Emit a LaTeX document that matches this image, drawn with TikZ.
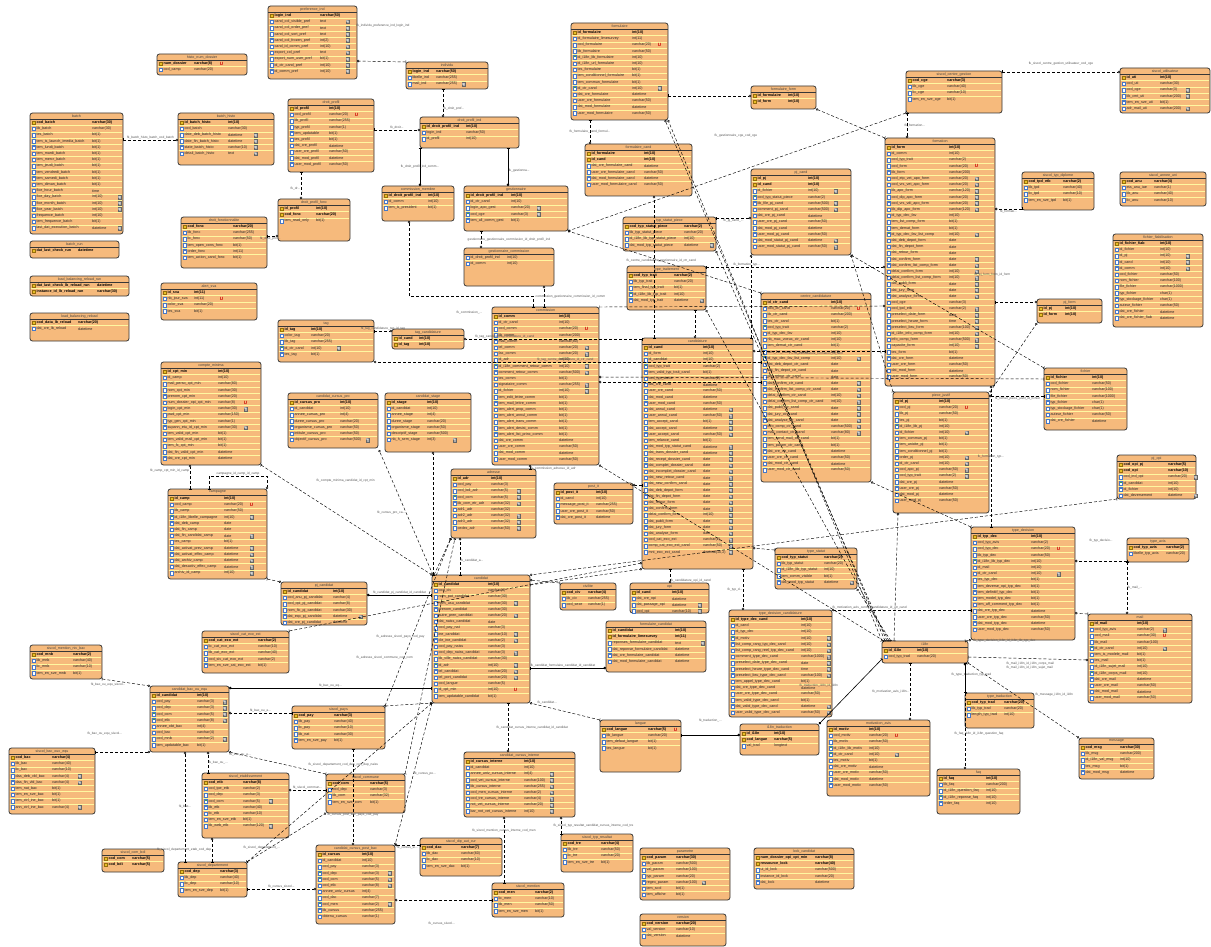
\documentclass[tikz,border=0pt]{standalone}
\usepackage{fontspec}
\setmainfont{Liberation Sans}
\usetikzlibrary{arrows.meta,calc,positioning}
\definecolor{tabfill}{RGB}{246,186,124}
\definecolor{tabedge}{RGB}{55,55,55}
\definecolor{rowyellow}{RGB}{255,247,160}
\definecolor{keygold}{RGB}{232,190,40}
\definecolor{keydark}{RGB}{150,110,10}
\definecolor{iconblue}{RGB}{70,120,200}
\definecolor{fkgreen}{RGB}{60,160,70}
\definecolor{lblgray}{RGB}{85,85,85}
\newcommand{\dbtab}[8]{%
  \node[tabbox, minimum width={(#5-#3)*1pt}, minimum height={(#6-#4)*1pt}] (#1) at ({(#3+#5)/2},{(#4+#6)/2}) {};
  \foreach \kk/\nm/\tp/\fl [count=\ri] in {#8}{%
    \pgfmathsetmacro{\ry}{#4+6.5+(\ri-1)*6.2}
    \draw[rowline] ({#3+0.6},\ry) -- ({#5-0.6},\ry);
    \node[ic\kk] at ({#3+3.6},{\ry+3.1}) {};
    \node[cn\kk] at ({#3+6.4},{\ry+3.1}) {\nm};
    \node[ct\kk] at ({#3+#7},{\ry+3.1}) {\tp};
    \node at ({#3+#7+27.5},{\ry+3.1}) [mk\fl];
  }
  \draw[headline] ({#3},{#4+6.5}) -- ({#5},{#4+6.5});
  \node[tabhead] at ({(#3+#5)/2},{#4+3.4}) {#2};
}
\catcode`\_=12
\begin{document}
\begin{tikzpicture}[x=1pt, y=-1pt,
  tabbox/.style={draw=tabedge, fill=tabfill, line width=0.8pt, rounded corners=2.5pt, inner sep=0pt, outer sep=0pt},
  tabhead/.style={font=\fontsize{3.6}{4}\selectfont, text=black!75, inner sep=0pt},
  rowline/.style={draw=rowyellow, line width=0.7pt},
  headline/.style={draw=tabedge, line width=0.6pt},
  txt/.style={anchor=west, inner sep=0pt, font=\fontsize{3.7}{4}\selectfont, text=black!85},
  txtb/.style={anchor=west, inner sep=0pt, font=\fontsize{3.7}{4}\selectfont\bfseries, text=black},
  cnk/.style={txtb}, cnp/.style={txtb}, cnc/.style={txt}, cnf/.style={txt},
  ctk/.style={txtb}, ctp/.style={txtb}, ctc/.style={txt}, ctf/.style={txt},
  icon/.style={minimum width=2.4pt, minimum height=3.6pt, inner sep=0pt, line width=0.3pt},
  ick/.style={icon, fill=keygold, draw=keydark},
  icp/.style={icon, fill=keygold, draw=keydark, path picture={\fill[fkgreen] (path picture bounding box.north west) rectangle ([yshift=-1.2pt]path picture bounding box.north east);}},
  icc/.style={icon, fill=white, draw=iconblue, path picture={\fill[iconblue] (path picture bounding box.north west) rectangle ([yshift=-1pt]path picture bounding box.north east);}},
  icf/.style={icon, fill=white, draw=iconblue, path picture={\fill[fkgreen] (path picture bounding box.north west) rectangle ([yshift=-1.2pt]path picture bounding box.north east);}},
  mkx/.style={inner sep=0pt, node contents={}},
  mkn/.style={fill=gray!65, draw=gray!80!black, line width=0.2pt, text=white, inner sep=0pt, minimum width=3.4pt, minimum height=3.6pt, font=\fontsize{3}{3}\selectfont\bfseries, node contents={N}},
  mku/.style={text=red!80!black, inner sep=0pt, font=\fontsize{4.6}{5}\selectfont\bfseries, node contents={U}},
  fk/.style={densely dashed, line width=0.45pt, arrows={Bar[width=3pt]-Circle[open,length=2.4pt,width=2.4pt]}},
  fkid/.style={line width=0.6pt, arrows={Bar[width=3pt]-Circle[length=2.4pt,width=2.4pt]}},
  lbl/.style={font=\fontsize{3.2}{3.6}\selectfont, text=lblgray, inner sep=0.5pt}]
\fill[white] (0,0) rectangle (1211,947);
\useasboundingbox (0,0) rectangle (1211,947);

\dbtab{hlsto}{histo_num_dossier}{157}{54}{247}{75}{37}{k/num_dossier/varchar(8)/u, c/cod_camp/varchar(20)/x}
\dbtab{prefind}{preference_ind}{268}{6}{357}{79}{52}{k/login_ind/varchar(50)/x, c/cand_col_visible_pref/text/n, c/cand_col_order_pref/text/n, c/cand_col_sort_pref/text/n, c/cand_col_frozen_pref/int(2)/n, c/cand_id_comm_pref/int(10)/n, c/export_col_pref/text/n, c/export_num_user_pref/bit(1)/n, c/id_ctr_cand_pref/int(10)/n, c/id_comm_pref/int(10)/n}
\dbtab{individu}{individu}{406}{62}{488}{89}{30}{k/login_ind/varchar(50)/x, c/libelle_ind/varchar(255)/x, c/mail_ind/varchar(255)/n}
\dbtab{formulaire}{formulaire}{571}{23}{668}{120}{61}{k/id_formulaire/int(10)/x, c/id_formulaire_limesurvey/int(11)/x, c/cod_formulaire/varchar(20)/u, c/lib_formulaire/varchar(50)/x, f/id_i18n_lib_formulaire/int(10)/x, f/id_i18n_url_formulaire/int(10)/x, c/tes_formulaire/bit(1)/x, c/tem_conditionnel_formulaire/bit(1)/x, c/tem_commun_formulaire/bit(1)/x, f/id_ctr_cand/int(10)/n, c/dat_cre_formulaire/datetime/x, c/user_cre_formulaire/varchar(50)/x, c/dat_mod_formulaire/datetime/x, c/user_mod_formulaire/varchar(50)/x}
\dbtab{formform}{formulaire_form}{751}{86}{816}{109}{37}{p/id_formulaire/int(10)/x, p/id_form/int(10)/x}
\dbtab{cge}{siscol_centre_gestion}{906}{71}{1002}{113}{41}{k/cod_cge/varchar(3)/x, c/lib_cge/varchar(40)/x, c/lic_cge/varchar(10)/x, c/tem_en_sve_cge/bit(1)/x}
\dbtab{siscolutil}{siscol_utilisateur}{1120}{68}{1210}{113}{40}{k/id_uti/int(10)/x, c/cod_uti/varchar(30)/x, f/cod_cge/varchar(3)/n, c/lib_cmt_uti/varchar(200)/n, c/tem_en_sve_uti/bit(1)/x, c/adr_mail_uti/varchar(200)/n}
\dbtab{batch}{batch}{30}{113}{123}{234}{62}{k/cod_batch/varchar(30)/x, c/lib_batch/varchar(30)/x, c/tes_batch/bit(1)/x, c/tem_is_launch_imedia_batch/bit(1)/x, c/tem_lundi_batch/bit(1)/x, c/tem_mardi_batch/bit(1)/x, c/tem_mercr_batch/bit(1)/x, c/tem_jeudi_batch/bit(1)/x, c/tem_vendredi_batch/bit(1)/x, c/tem_samedi_batch/bit(1)/x, c/tem_diman_batch/bit(1)/x, c/fixe_hour_batch/time/x, c/fixe_day_batch/int(10)/n, c/fixe_month_batch/int(10)/n, c/fixe_year_batch/int(10)/n, c/frequence_batch/int(10)/x, c/tem_frequence_batch/bit(1)/x, c/last_dat_execution_batch/datetime/n}
\dbtab{batchhisto}{batch_histo}{178}{113}{274}{165}{50}{k/id_batch_histo/int(10)/x, f/cod_batch/varchar(30)/x, c/date_deb_batch_histo/datetime/n, c/date_fin_batch_histo/datetime/n, c/state_batch_histo/varchar(10)/n, c/detail_batch_histo/text/n}
\dbtab{droitprofil}{droit_profil}{288}{99}{374}{172}{41}{k/id_profil/int(10)/x, c/cod_profil/varchar(20)/u, c/lib_profil/varchar(255)/x, c/typ_profil/varchar(1)/x, c/tem_updatable/bit(1)/x, c/tes_profil/bit(1)/x, c/dat_cre_profil/datetime/x, c/user_cre_profil/varchar(50)/x, c/dat_mod_profil/datetime/x, c/user_mod_profil/varchar(50)/x}
\dbtab{droitprofilind}{droit_profil_ind}{420}{117}{519}{148}{46}{k/id_droit_profil_ind/int(10)/x, f/login_ind/varchar(50)/x, f/id_profil/int(10)/x}
\dbtab{formcand}{formulaire_cand}{585}{144}{692}{196}{59}{p/id_formulaire/int(10)/x, p/id_cand/int(10)/x, c/dat_cre_formulaire_cand/datetime/x, c/user_cre_formulaire_cand/varchar(50)/x, c/dat_mod_formulaire_cand/datetime/x, c/user_mod_formulaire_cand/varchar(50)/x}
\dbtab{formation}{formation}{885}{138}{995}{386}{64}{k/id_form/int(10)/x, f/id_comm/int(10)/x, f/cod_typ_trait/varchar(2)/x, c/cod_form/varchar(20)/u, c/lib_form/varchar(200)/x, c/cod_etp_vet_apo_form/varchar(20)/n, c/cod_vrs_vet_apo_form/varchar(20)/n, c/lib_apo_form/varchar(120)/n, c/cod_dip_apo_form/varchar(20)/n, c/cod_vrs_vdi_apo_form/varchar(20)/n, c/lib_dip_apo_form/varchar(120)/n, f/id_typ_dec_fav/int(10)/x, c/tem_list_comp_form/bit(1)/x, c/tem_demat_form/bit(1)/x, f/id_typ_dec_fav_list_comp/int(10)/n, c/dat_deb_depot_form/date/x, c/dat_fin_depot_form/date/x, c/dat_retour_form/date/x, c/dat_confirm_form/date/n, c/dat_confirm_list_comp_form/date/n, c/delai_confirm_form/int(10)/n, c/delai_confirm_list_comp_form/int(10)/n, c/dat_publi_form/date/n, c/dat_jury_form/date/n, c/dat_analyse_form/date/n, f/cod_cge/varchar(3)/x, f/cod_tpd_etb/varchar(2)/n, c/preselect_date_form/date/n, c/preselect_heure_form/time/n, c/preselect_lieu_form/varchar(100)/n, f/id_i18n_info_comp_form/int(10)/n, c/info_comp_form/varchar(500)/n, c/capacite_form/int(10)/n, c/tes_form/bit(1)/x, c/dat_cre_form/datetime/x, c/user_cre_form/varchar(50)/x, c/dat_mod_form/datetime/x, c/user_mod_form/varchar(50)/x}
\dbtab{typdiplome}{siscol_typ_diplome}{1022}{172}{1094}{210}{41}{k/cod_tpd_etb/varchar(2)/x, c/lib_tpd/varchar(40)/x, c/lic_tpd/varchar(10)/x, c/tem_en_sve_tpd/bit(1)/x}
\dbtab{anneeuni}{siscol_annee_uni}{1120}{172}{1206}{206}{34}{k/cod_anu/varchar(4)/x, c/eta_anu_iae/varchar(1)/x, c/lib_anu/varchar(40)/x, c/lic_anu/varchar(10)/x}
\dbtab{pjcand}{pj_cand}{751}{169}{851}{255}{57}{p/id_pj/int(10)/x, p/id_cand/int(10)/x, f/id_fichier/int(10)/n, f/cod_typ_statut_piece/varchar(2)/x, c/lib_file_pj_cand/varchar(500)/n, c/comment_pj_cand/varchar(500)/n, c/dat_cre_pj_cand/datetime/x, c/user_cre_pj_cand/varchar(50)/x, c/dat_mod_pj_cand/datetime/x, c/user_mod_pj_cand/varchar(50)/x, c/dat_mod_statut_pj_cand/datetime/n, c/user_mod_statut_pj_cand/varchar(50)/n}
\dbtab{droitprofilfonc}{droit_profil_fonc}{278}{199}{350}{241}{38}{p/id_profil/int(10)/x, p/cod_fonc/varchar(20)/x, c/tem_read_only/bit(1)/x}
\dbtab{droitfonc}{droit_fonctionnalite}{181}{217}{267}{268}{52}{k/cod_fonc/varchar(20)/x, c/lib_fonc/varchar(255)/x, c/lic_fonc/varchar(50)/x, c/tem_open_cons_fonc/bit(1)/x, c/order_fonc/int(11)/x, c/tem_action_cand_fonc/bit(1)/x}
\dbtab{commmembre}{commission_membre}{382}{186}{454}{221}{46}{p/id_droit_profil_ind/int(10)/x, f/id_comm/int(10)/x, c/tem_is_president/bit(1)/x}
\dbtab{gestionnaire}{gestionnaire}{464}{186}{568}{231}{47}{p/id_droit_profil_ind/int(10)/x, f/id_ctr_cand/int(10)/x, c/login_apo_gest/varchar(20)/n, f/cod_cge/varchar(3)/n, c/tem_all_comm_gest/bit(1)/x}
\dbtab{typstatutpiece}{typ_statut_piece}{623}{217}{716}{251}{61}{k/cod_typ_statut_piece/varchar(2)/x, c/lib_typ_statut_piece/varchar(20)/x, f/id_i18n_lib_typ_statut_piece/int(10)/x, c/dat_mod_typ_statut_piece/datetime/n}
\dbtab{fichierfiab}{fichier_fiabilisation}{1113}{234}{1203}{327}{47}{k/id_fichier_fiab/int(10)/x, c/id_fichier/int(10)/x, c/id_pj/int(10)/n, c/id_cand/int(10)/n, c/id_comm/int(10)/n, c/cod_fichier/varchar(50)/x, c/nom_fichier/varchar(100)/x, c/file_fichier/varchar(1000)/x, c/typ_fichier/char(1)/x, c/typ_stockage_fichier/char(1)/x, c/auteur_fichier/varchar(50)/x, c/dat_cre_fichier/datetime/x, c/dat_cre_fichier_fiab/datetime/x}
\dbtab{batchrun}{batch_run}{30}{241}{119}{258}{48}{k/dat_last_check_run/datetime/x}
\dbtab{gestcomm}{gestionnaire_commission}{464}{248}{554}{286}{43}{f/id_droit_profil_ind/int(10)/x, f/id_comm/int(10)/x}
\dbtab{typetrait}{type_traitement}{627}{266}{706}{310}{47}{k/cod_typ_trait/varchar(2)/x, c/lib_typ_trait/varchar(20)/x, c/tem_final_typ_trait/bit(1)/x, f/id_i18n_lib_typ_trait/int(10)/x, c/dat_mod_typ_trait/datetime/n}
\dbtab{lbreloadrun}{load_balancing_reload_run}{30}{276}{129}{296}{67}{k/dat_last_check_lb_reload_run/datetime/x, k/instance_id_lb_reload_run/varchar(30)/x}
\dbtab{alertsva}{alert_sva}{161}{283}{257}{320}{33}{k/id_sva/int(11)/x, c/nb_jour_sva/int(11)/u, c/color_sva/varchar(20)/x, c/tes_sva/bit(1)/x}
\dbtab{centrecand}{centre_candidature}{761}{293}{871}{482}{70}{k/id_ctr_cand/int(10)/x, c/cod_ctr_cand/varchar(20)/u, c/lib_ctr_cand/varchar(200)/x, c/tes_ctr_cand/bit(1)/x, f/cod_typ_trait/varchar(2)/x, f/id_typ_dec_fav/int(10)/x, c/nb_max_voeux_ctr_cand/int(10)/x, c/tem_demat_ctr_cand/bit(1)/x, c/tem_list_comp_ctr_cand/bit(1)/x, f/id_typ_dec_fav_list_comp/int(10)/n, c/dat_deb_depot_ctr_cand/date/x, c/dat_fin_depot_ctr_cand/date/x, c/dat_retour_ctr_cand/date/x, c/dat_confirm_ctr_cand/date/n, c/dat_confirm_list_comp_ctr_cand/date/n, c/delai_confirm_ctr_cand/int(10)/n, c/delai_confirm_list_comp_ctr_cand/int(10)/n, c/dat_publi_ctr_cand/date/n, c/dat_jury_ctr_cand/date/n, c/dat_analyse_ctr_cand/date/n, c/info_comp_ctr_cand/varchar(500)/n, c/mail_contact_ctr_cand/varchar(80)/n, c/tem_send_mail_ctr_cand/bit(1)/x, c/tem_param_ctr_cand/bit(1)/x, c/dat_cre_ctr_cand/datetime/x, c/user_cre_ctr_cand/varchar(50)/x, c/dat_mod_ctr_cand/datetime/x, c/user_mod_ctr_cand/varchar(50)/x}
\dbtab{pjform}{pj_form}{1037}{299}{1102}{323}{28}{p/id_pj/int(10)/x, p/id_form/int(10)/x}
\dbtab{commission}{commission}{492}{307}{599}{465}{67}{k/id_comm/int(10)/x, f/id_ctr_cand/int(10)/x, c/cod_comm/varchar(20)/u, c/lib_comm/varchar(200)/x, c/mail_comm/varchar(80)/x, c/tel_comm/varchar(20)/n, c/fax_comm/varchar(20)/n, f/id_adr/int(10)/x, f/id_i18n_comment_retour_comm/int(10)/n, c/comment_retour_comm/varchar(500)/n, c/tes_comm/bit(1)/x, c/signataire_comm/varchar(255)/n, f/id_fichier/int(10)/n, c/tem_edit_lettre_comm/bit(1)/x, c/tem_mail_lettre_comm/bit(1)/x, c/tem_alert_prop_comm/bit(1)/x, c/tem_alert_annul_comm/bit(1)/x, c/tem_alert_trans_comm/bit(1)/x, c/tem_alert_desist_comm/bit(1)/x, c/tem_alert_list_princ_comm/bit(1)/x, c/dat_cre_comm/datetime/x, c/user_cre_comm/varchar(50)/x, c/dat_mod_comm/datetime/x, c/user_mod_comm/varchar(50)/x}
\dbtab{lbreload}{load_balancing_reload}{30}{313}{129}{341}{48}{k/cod_data_lb_reload/varchar(20)/x, c/dat_cre_lb_reload/datetime/x}
\dbtab{tag}{tag}{278}{320}{374}{362}{33}{k/id_tag/int(10)/x, c/color_tag/varchar(20)/x, c/lib_tag/varchar(255)/x, f/id_ctr_cand/int(10)/n, c/tes_tag/bit(1)/x}
\dbtab{tagcand}{tag_candidature}{392}{329}{464}{349}{27}{p/id_cand/int(10)/x, p/id_tag/int(10)/x}
\dbtab{candidature}{candidature}{642}{338}{753}{569}{61}{k/id_cand/int(10)/x, f/id_form/int(10)/x, f/id_candidat/int(10)/x, f/cod_typ_trait/varchar(2)/x, c/tem_valid_typ_trait_cand/bit(1)/x, f/cod_typ_statut/varchar(2)/x, c/dat_cre_cand/datetime/x, c/user_cre_cand/varchar(50)/x, c/dat_mod_cand/datetime/x, c/user_mod_cand/varchar(50)/x, c/dat_annul_cand/datetime/n, c/user_annul_cand/varchar(50)/n, c/tem_accept_cand/bit(1)/n, c/dat_accept_cand/datetime/n, c/user_accept_cand/varchar(50)/n, c/tem_relance_cand/bit(1)/x, c/dat_mod_typ_statut_cand/datetime/n, c/dat_trans_dossier_cand/datetime/n, c/dat_recept_dossier_cand/date/n, c/dat_complet_dossier_cand/date/n, c/dat_incomplet_dossier_cand/date/n, c/dat_new_retour_cand/date/n, c/dat_new_confirm_cand/date/n, c/dat_deb_depot_form/date/n, c/dat_fin_depot_form/date/n, c/dat_retour_form/date/n, c/dat_confirm_form/date/n, c/delai_confirm_form/int(10)/n, c/dat_publi_form/date/n, c/dat_jury_form/date/n, c/dat_analyse_form/date/n, f/cod_cat_exo_ext/varchar(2)/n, c/comp_cat_exo_ext_cand/varchar(50)/n, c/mnt_exo_ext_cand/{decimal(10,2)}/n}
\dbtab{compteminima}{compte_minima}{161}{362}{261}{465}{57}{k/id_cpt_min/int(10)/x, f/id_camp/int(10)/x, c/mail_perso_cpt_min/varchar(80)/x, c/nom_cpt_min/varchar(30)/x, c/prenom_cpt_min/varchar(20)/x, c/num_dossier_opi_cpt_min/varchar(8)/u, c/login_cpt_min/varchar(30)/n, c/pwd_cpt_min/varchar(150)/x, c/typ_gen_cpt_min/varchar(1)/x, c/supann_etu_id_cpt_min/varchar(30)/n, c/tem_valid_cpt_min/bit(1)/x, c/tem_valid_mail_cpt_min/bit(1)/x, c/tem_fc_cpt_min/bit(1)/x, c/dat_fin_valid_cpt_min/datetime/x, c/dat_cre_cpt_min/datetime/x}
\dbtab{fichier}{fichier}{1044}{368}{1127}{430}{48}{k/id_fichier/int(10)/x, c/cod_fichier/varchar(50)/x, c/nom_fichier/varchar(100)/x, c/file_fichier/varchar(1000)/x, c/typ_fichier/char(1)/x, c/typ_stockage_fichier/char(1)/x, c/auteur_fichier/varchar(50)/x, c/dat_cre_fichier/datetime/x}
\dbtab{cursuspro}{candidat_cursus_pro}{288}{393}{378}{448}{52}{k/id_cursus_pro/int(10)/x, f/id_candidat/int(10)/x, c/annee_cursus_pro/int(4)/x, c/duree_cursus_pro/varchar(20)/x, c/organisme_cursus_pro/varchar(50)/x, c/intitule_cursus_pro/varchar(50)/x, c/objectif_cursus_pro/varchar(500)/n}
\dbtab{stage}{candidat_stage}{385}{393}{471}{452}{42}{k/id_stage/int(10)/x, f/id_candidat/int(10)/x, c/annee_stage/int(4)/x, c/duree_stage/varchar(20)/x, c/organisme_stage/varchar(50)/x, c/descriptif_stage/varchar(500)/x, c/nb_h_sem_stage/int(3)/n}
\dbtab{piecejustif}{piece_justif}{893}{392}{989}{513}{46}{k/id_pj/int(10)/x, c/cod_pj/varchar(20)/u, c/lib_pj/varchar(50)/x, c/tes_pj/bit(1)/x, f/id_i18n_lib_pj/int(10)/x, f/id_fichier/int(10)/n, c/tem_commun_pj/bit(1)/x, c/tem_unicite_pj/bit(1)/x, c/tem_conditionnel_pj/bit(1)/x, c/order_pj/int(10)/n, f/id_ctr_cand/int(10)/n, c/cod_apo_pj/varchar(50)/n, f/cod_typ_trait/varchar(2)/n, c/dat_cre_pj/datetime/x, c/user_cre_pj/varchar(50)/x, c/dat_mod_pj/datetime/x, c/user_mod_pj/varchar(50)/x}
\dbtab{pjopi}{pj_opi}{1117}{455}{1196}{499}{51}{k/cod_opi_pj/varchar(5)/x, k/cod_opi/varchar(10)/x, c/cod_ind_opi/varchar(20)/n, f/id_candidat/int(10)/x, c/id_fichier/int(10)/x, c/dat_deversement/datetime/n}
\dbtab{adresse}{adresse}{451}{469}{536}{538}{40}{k/id_adr/int(10)/x, f/cod_pay/varchar(3)/x, c/cod_bdi_adr/varchar(5)/n, f/cod_com/varchar(5)/n, c/lib_com_etr_adr/varchar(32)/n, c/adr1_adr/varchar(32)/x, c/adr2_adr/varchar(32)/n, c/adr3_adr/varchar(32)/n, c/cedex_adr/varchar(50)/n}
\dbtab{postit}{post_it}{554}{483}{633}{524}{42}{k/id_post_it/int(10)/x, f/id_cand/int(10)/x, c/message_post_it/varchar(255)/x, c/user_cre_post_it/varchar(50)/x, c/dat_cre_post_it/datetime/x}
\dbtab{campagne}{campagne}{168}{489}{267}{579}{56}{k/id_camp/int(10)/x, c/cod_camp/varchar(20)/u, c/lib_camp/varchar(50)/x, f/id_i18n_libelle_campagne/int(10)/n, c/dat_deb_camp/date/x, c/dat_fin_camp/date/x, c/dat_fin_candidat_camp/date/n, c/tes_camp/bit(1)/x, c/dat_activat_prev_camp/datetime/n, c/dat_activat_effec_camp/datetime/n, c/dat_archiv_camp/datetime/n, c/dat_desactiv_effec_camp/datetime/n, f/archiv_id_camp/int(10)/n}
\dbtab{typedecision}{type_decision}{971}{527}{1075}{640}{60}{k/id_typ_dec/int(10)/x, f/cod_typ_avis/varchar(2)/x, c/cod_typ_dec/varchar(20)/u, c/lib_typ_dec/varchar(50)/x, f/id_i18n_lib_typ_dec/int(10)/x, f/id_mail/int(10)/x, f/id_ctr_cand/int(10)/n, c/tes_typ_dec/bit(1)/x, c/tem_deverse_opi_typ_dec/bit(1)/x, c/tem_definitif_typ_dec/bit(1)/x, c/tem_model_typ_dec/bit(1)/x, c/tem_aff_comment_typ_dec/bit(1)/x, c/dat_cre_typ_dec/datetime/x, c/user_cre_typ_dec/varchar(50)/x, c/dat_mod_typ_dec/datetime/x, c/user_mod_typ_dec/varchar(50)/x}
\dbtab{typeavis}{type_avis}{1127}{538}{1189}{562}{39}{k/cod_typ_avis/varchar(2)/x, c/libelle_typ_avis/varchar(20)/x}
\dbtab{typestatut}{type_statut}{775}{548}{857}{589}{49}{k/cod_typ_statut/varchar(2)/x, c/lib_typ_statut/varchar(20)/x, f/id_i18n_lib_typ_statut/int(10)/x, c/tem_comm_visible/bit(1)/x, c/dat_mod_typ_statut/datetime/n}
\dbtab{candidat}{candidat}{432}{575}{530}{703}{56}{k/id_candidat/int(10)/x, f/cod_civ/varchar(4)/x, c/nom_pat_candidat/varchar(30)/x, c/nom_usu_candidat/varchar(30)/n, c/prenom_candidat/varchar(30)/x, c/autre_pren_candidat/varchar(20)/n, c/dat_naiss_candidat/date/x, f/cod_pay_nat/varchar(3)/x, c/ine_candidat/varchar(10)/n, c/cle_ine_candidat/varchar(2)/n, f/cod_pay_naiss/varchar(3)/x, f/cod_dep_naiss_candidat/varchar(3)/n, c/lib_ville_naiss_candidat/varchar(30)/x, f/id_adr/int(10)/n, c/tel_candidat/varchar(20)/n, c/tel_port_candidat/varchar(20)/n, f/cod_langue/varchar(5)/x, f/id_cpt_min/int(10)/u, c/tem_updatable_candidat/bit(1)/x}
\dbtab{candidatpj}{pj_candidat}{281}{582}{367}{625}{52}{p/id_candidat/int(10)/x, c/cod_anu_pj_candidat/varchar(4)/x, c/cod_opi_pj_candidat/varchar(8)/x, c/nom_fic_pj_candidat/varchar(30)/x, c/dat_exp_pj_candidat/datetime/n, c/dat_cre_pj_candidat/datetime/x}
\dbtab{civilite}{civilite}{560}{583}{616}{610}{28}{k/cod_civ/varchar(4)/x, c/lib_civ/varchar(255)/x, c/cod_sexe/varchar(1)/x}
\dbtab{opi}{opi}{630}{583}{709}{613}{42}{p/id_cand/int(10)/x, c/dat_cre_opi/datetime/x, c/dat_passage_opi/datetime/n, c/cod_opi/varchar(10)/n}
\dbtab{typedeccand}{type_decision_candidature}{729}{610}{832}{717}{72}{k/id_type_dec_cand/int(10)/x, f/id_cand/int(10)/x, f/id_typ_dec/int(10)/x, f/id_motiv/int(10)/n, c/list_comp_rang_typ_dec_cand/int(10)/n, c/list_comp_rang_reel_typ_dec_cand/int(10)/n, c/comment_type_dec_cand/varchar(1000)/n, c/preselect_date_type_dec_cand/date/n, c/preselect_heure_type_dec_cand/time/n, c/preselect_lieu_type_dec_cand/varchar(100)/n, c/tem_appel_type_dec_cand/bit(1)/x, c/dat_cre_type_dec_cand/datetime/x, c/user_cre_type_dec_cand/varchar(50)/x, c/tem_valid_type_dec_cand/bit(1)/x, c/dat_valid_type_dec_cand/datetime/n, c/user_valid_type_dec_cand/varchar(50)/n}
\dbtab{formulairecandidat}{formulaire_candidat}{606}{621}{706}{672}{69}{p/id_candidat/int(10)/x, k/id_formulaire_limesurvey/int(11)/x, c/reponses_formulaire_candidat/text/n, c/dat_reponse_formulaire_candidat/datetime/x, c/dat_cre_formulaire_candidat/datetime/x, c/dat_mod_formulaire_candidat/datetime/x}
\dbtab{mail}{mail}{1088}{614}{1192}{703}{49}{k/id_mail/int(10)/x, f/cod_typ_avis/varchar(2)/n, c/cod_mail/varchar(30)/u, c/lib_mail/varchar(100)/x, f/id_ctr_cand/int(10)/n, c/tem_is_modele_mail/bit(1)/x, c/tes_mail/bit(1)/x, f/id_i18n_sujet_mail/int(10)/x, f/id_i18n_corps_mail/int(10)/x, c/dat_cre_mail/datetime/x, c/user_cre_mail/varchar(50)/x, c/dat_mod_mail/datetime/x, c/user_mod_mail/varchar(50)/x}
\dbtab{catexoext}{siscol_cat_exo_ext}{202}{631}{289}{673}{56}{k/cod_cat_exo_ext/varchar(2)/x, c/lic_cat_exo_ext/varchar(10)/x, c/lib_cat_exo_ext/varchar(40)/x, c/cod_siv_cat_exo_ext/varchar(2)/x, c/tem_en_sve_cat_exo_ext/bit(1)/x}
\dbtab{i18n}{i18n}{882}{641}{968}{663}{35}{k/id_i18n/int(10)/x, f/cod_typ_trad/varchar(20)/x}
\dbtab{mentionnivbac}{siscol_mention_niv_bac}{30}{645}{102}{679}{43}{k/cod_mnb/varchar(2)/x, c/lib_mnb/varchar(40)/x, c/lic_mnb/varchar(10)/x, c/tem_en_sve_mnb/bit(1)/x}
\dbtab{bacouequ}{candidat_bac_ou_equ}{150}{686}{229}{752}{47}{p/id_candidat/int(10)/x, f/cod_pay/varchar(3)/n, f/cod_dep/varchar(3)/n, f/cod_com/varchar(5)/n, f/cod_etb/varchar(8)/n, c/annee_obt_bac/int(4)/x, f/cod_bac/varchar(4)/x, f/cod_mnb/varchar(2)/n, c/tem_updatable_bac/bit(1)/x}
\dbtab{typetrad}{type_traduction}{965}{693}{1034}{728}{39}{k/cod_typ_trad/varchar(20)/x, c/lib_typ_trad/varchar(20)/x, c/length_typ_trad/int(10)/x}
\dbtab{pays}{siscol_pays}{292}{706}{385}{749}{42}{k/cod_pay/varchar(3)/x, c/lib_pay/varchar(40)/x, c/lic_pay/varchar(10)/x, c/lib_nat/varchar(30)/x, c/tem_en_sve_pay/bit(1)/x}
\dbtab{langue}{langue}{600}{720}{681}{772}{48}{k/cod_langue/varchar(5)/u, c/lib_langue/varchar(20)/x, c/tem_defaut_langue/bit(1)/x, c/tes_langue/bit(1)/x}
\dbtab{i18ntrad}{i18n_traduction}{740}{724}{819}{755}{34}{p/id_i18n/int(10)/x, p/cod_langue/varchar(5)/x, c/val_trad/longtext/x}
\dbtab{motivation}{motivation_avis}{827}{720}{930}{796}{42}{k/id_motiv/int(10)/x, c/cod_motiv/varchar(20)/u, c/lib_motiv/varchar(50)/x, f/id_i18n_lib_motiv/int(10)/x, f/id_ctr_cand/int(10)/n, c/tes_motiv/bit(1)/x, c/dat_cre_motiv/datetime/x, c/user_cre_motiv/varchar(50)/x, c/dat_mod_motiv/datetime/x, c/user_mod_motiv/varchar(50)/x}
\dbtab{message}{message}{1079}{738}{1154}{779}{41}{k/cod_msg/varchar(30)/x, c/lib_msg/varchar(200)/x, f/id_i18n_val_msg/int(10)/x, c/tes_msg/bit(1)/x, c/dat_mod_msg/datetime/x}
\dbtab{bacoux}{siscol_bac_oux_equ}{9}{748}{95}{814}{43}{k/cod_bac/varchar(4)/x, c/lib_bac/varchar(40)/x, c/lic_bac/varchar(10)/x, c/daa_deb_vld_bac/varchar(4)/n, c/daa_fin_vld_bac/varchar(4)/n, c/tem_nat_bac/bit(1)/x, c/tem_en_sve_bac/bit(1)/x, c/tem_ctrl_ine_bac/bit(1)/x, c/ann_ctrl_ine_bac/varchar(4)/n}
\dbtab{cursusinterne}{candidat_cursus_interne}{464}{752}{575}{817}{60}{k/id_cursus_interne/int(10)/x, f/id_candidat/int(10)/x, c/annee_univ_cursus_interne/int(4)/n, c/cod_vet_cursus_interne/varchar(100)/n, c/lib_cursus_interne/varchar(255)/n, f/cod_men_cursus_interne/varchar(2)/n, f/cod_tre_cursus_interne/varchar(4)/n, c/not_vet_cursus_interne/varchar(20)/n, c/bar_not_vet_cursus_interne/int(10)/n}
\dbtab{etablissement}{siscol_etablissement}{202}{773}{289}{838}{41}{k/cod_etb/varchar(8)/x, c/cod_tpe_etb/varchar(2)/x, f/cod_dep/varchar(3)/x, f/cod_com/varchar(5)/n, c/lib_etb/varchar(40)/x, c/lic_etb/varchar(10)/x, c/tem_en_sve_etb/bit(1)/x, c/lib_web_etb/varchar(120)/n}
\dbtab{commune}{siscol_commune}{326}{774}{405}{813}{44}{k/cod_com/varchar(5)/x, f/cod_dep/varchar(3)/x, c/lib_com/varchar(32)/x, c/tem_en_sve_com/bit(1)/x}
\dbtab{faq}{faq}{937}{769}{1020}{814}{49}{k/id_faq/int(10)/x, c/lib_faq/varchar(200)/x, f/id_i18n_question_faq/int(10)/x, f/id_i18n_reponse_faq/int(10)/x, c/order_faq/int(10)/x}
\dbtab{typresultat}{siscol_typ_resultat}{561}{834}{633}{872}{40}{k/cod_tre/varchar(4)/x, c/lib_tre/varchar(50)/x, c/lic_tre/varchar(20)/x, c/tem_en_sve_tre/bit(1)/x}
\dbtab{dipautcur}{siscol_dip_aut_cur}{420}{838}{502}{876}{41}{k/cod_dac/varchar(7)/x, c/lib_dac/varchar(60)/x, c/lic_dac/varchar(10)/x, c/tem_en_sve_dac/bit(1)/x}
\dbtab{cursuspostbac}{candidat_cursus_post_bac}{316}{845}{395}{924}{46}{k/id_cursus/int(10)/x, f/id_candidat/int(10)/x, f/cod_pay/varchar(3)/x, f/cod_dep/varchar(3)/n, f/cod_com/varchar(5)/n, f/cod_etb/varchar(8)/n, c/annee_univ_cursus/int(4)/x, f/cod_dac/varchar(7)/x, f/cod_men/varchar(2)/n, c/lib_cursus/varchar(255)/x, c/obtenu_cursus/varchar(1)/x}
\dbtab{parametre}{parametre}{640}{848}{730}{900}{36}{k/cod_param/varchar(30)/x, c/lib_param/varchar(500)/x, c/val_param/varchar(100)/x, c/typ_param/varchar(20)/x, c/regex_param/varchar(100)/n, c/tem_scol/bit(1)/x, c/tem_affiche/bit(1)/x}
\dbtab{lockcandidat}{lock_candidat}{754}{848}{854}{889}{61}{k/num_dossier_opi_cpt_min/varchar(8)/x, k/ressource_lock/varchar(40)/x, c/ui_id_lock/varchar(500)/x, c/instance_id_lock/varchar(20)/x, c/dat_lock/datetime/x}
\dbtab{combdi}{siscol_com_bdi}{102}{849}{164}{872}{30}{k/cod_com/varchar(5)/x, k/cod_bdi/varchar(5)/x}
\dbtab{departement}{siscol_departement}{178}{862}{247}{897}{42}{k/cod_dep/varchar(3)/x, c/lib_dep/varchar(40)/x, c/lic_dep/varchar(10)/x, c/tem_en_sve_dep/bit(1)/x}
\dbtab{mention}{siscol_mention}{492}{883}{564}{917}{43}{k/cod_men/varchar(2)/x, c/lic_men/varchar(10)/x, c/lib_men/varchar(50)/x, c/tem_en_sve_men/bit(1)/x}
\dbtab{version}{version}{640}{914}{726}{946}{36}{k/cod_version/varchar(20)/x, c/val_version/varchar(10)/x, c/dat_version/datetime/x}

\draw[fk] ($(batch.north west)+(93,27)$) -- node[lbl,above]{fk_batch_histo_batch_cod_batch} ($(batchhisto.north west)+(0,27)$);
\draw[fk] (individu.north west) -- ($(prefind.north west)+(89,55)$);
\node[lbl,anchor=west] at ($(prefind.north east)+(-1,20)$) {fk_individu_preference_ind_login_ind};
\draw[fk] ($(individu.north west)+(37,27)$) -- node[lbl,right,pos=.7]{fk_droit_prof...} ($(droitprofilind.north west)+(23,0)$);
\draw[fk] ($(droitprofil.north west)+(86,31)$) -- node[lbl,above]{fk_droit...} ($(droitprofilind.north west)+(0,13)$);
\draw[fkid] ($(droitprofilind.north west)+(0,31)$) -- node[lbl]{fk_droit_profil_ind_comm...} ($(commmembre.north west)+(38,0)$);
\draw[fkid] ($(droitprofilind.north west)+(88,31)$) -- node[lbl,right,pos=.6]{fk_gestionna...} ($(gestionnaire.north west)+(44,0)$);
\draw[fk] ($(gestionnaire.north west)+(17,45)$) -- node[lbl,right,xshift=-14]{gestionnaire_gestionnaire_commission_id_droit_profil_ind} ($(gestcomm.north west)+(17,0)$);
\draw[fk] ($(commission.north west)+(41,0)$) -- ($(commission.north west)+(41,-11)$) -| ($(commmembre.north west)+(27,35)$);
\node[lbl,anchor=west] at ($(commission.north west)+(-36,6)$) {fk_commission_...};
\draw[fk] ($(commission.north west)+(52,0)$) -- node[lbl,right,xshift=-9]{commission_gestionnaire_commission_id_comm} ($(gestcomm.north west)+(80,38)$);
\draw[fk] ($(droitprofil.north west)+(13,73)$) -- node[lbl,left,pos=.6]{fk_dr...} ($(droitprofilfonc.north west)+(23,0)$);
\draw[fk] ($(droitfonc.north west)+(86,19)$) -- node[lbl,below,pos=.3]{fk_droit_prof...} ($(droitprofilfonc.north west)+(0,37)$);
\draw[fk] ($(formulaire.north west)+(97,73)$) -- ($(formform.north west)+(0,10)$);
\draw[fk] (formation.north west) -- (formform.south east);
\draw[fk] ($(formulaire.north west)+(19,97)$) -- node[lbl]{fk_formulaire_cand_formul...} ($(formcand.north west)+(5,0)$);
\draw[fk] (cge.south west) -- (gestionnaire.south east);
\node[lbl] at ($(cge.south west)+(-170,23)$) {fk_gestionnaire_cge_cod_cge};
\draw[fk] ($(cge.north east)+(0,1)$) -- node[lbl,above,yshift=6]{fk_siscol_centre_gestion_utilisateur_cod_cge} ($(siscolutil.north west)+(0,4)$);
\draw[fk] ($(cge.south west)+(1,0)$) -- node[lbl,right,xshift=-3]{fk_formation...} ($(formation.north west)+(22,0)$);
\draw[fk] ($(typdiplome.north west)+(0,37)$) -- node[lbl,below]{fk_formati...} ($(formation.north west)+(110,71)$);
\draw[fk] ($(formation.north west)+(110,164)$) -- ($(pjform.north west)+(0,3)$);
\node[lbl,anchor=west] at ($(pjform.north west)+(-63,-24)$) {fk_pj_form_form_id_form};
\draw[fk] ($(piecejustif.north east)+(1,0)$) -- (pjform.south west);
\draw[fk] ($(fichier.north west)+(0,11)$) -- ($(commission.north west)+(107,70)$);
\draw[fk] ($(fichier.north west)+(0,28)$) -- node[lbl,below left,pos=1,xshift=52]{fk_fichier_piece_justif_id_fichier} ($(piecejustif.north west)+(96,4)$);
\draw[fk] (fichier.north west) -- (pjcand.south east);
\draw[fk] ($(typedecision.north west)+(20,0)$) -- node[lbl]{fk_formation_typ...} ($(formation.north west)+(106,248)$);
\draw[fk] ($(typeavis.north west)+(0,23)$) -- node[lbl,above,yshift=18]{fk_typ_decisio...} ($(typedecision.north west)+(104,34)$);
\draw[fk] ($(typeavis.north west)+(0,24)$) -- node[lbl,right]{fk_mail_...} ($(mail.north west)+(39,0)$);
\draw[fk] (mail.north west) -- ($(typedecision.north west)+(104,86)$);
\draw[fk] (typedecision.north west) -- (centrecand.south east);

\draw[fk] ($(campagne.north west)+(22,0)$) -- node[lbl,left,pos=.75]{fk_camp_cpt_min_id_camp} ($(compteminima.north west)+(29,103)$);
\draw[fk] ($(campagne.north west)+(41,0)$) |- node[lbl,above,pos=.75]{campagne_id_camp_id_camp} ($(campagne.north east)+(0,-13)$) -- (campagne.north east);
\draw[fk] (compteminima.south east) -- (candidat.north west);
\node[lbl,anchor=west] at ($(candidat.north west)+(-116,-94)$) {fk_compte_minima_candidat_id_cpt_min};
\draw[fk] ($(candidat.north west)+(1,0)$) -- node[lbl,left]{fk_cursus_pro_ca...} ($(cursuspro.north west)+(91,57)$);
\draw[fk] ($(candidat.north west)+(1,0)$) -- ($(stage.north west)+(48,59)$);
\draw[fk] ($(candidat.north west)+(2,0)$) -- (adresse.south west);
\draw[fk] ($(candidat.north west)+(28,0)$) -- node[lbl,right,pos=.4]{fk_candidat_a...} ($(adresse.north west)+(9,69)$);
\draw[fk] (campagne.south east) -- (candidatpj.north west);
\draw[fkid] ($(candidat.north west)+(0,20)$) -- node[lbl,above]{fk_candidat_pj_candidat_id_candidat} ($(candidatpj.north west)+(86,13)$);
\draw[fk] ($(tag.north west)+(96,11)$) -- node[lbl,above]{fk_tag_candidature_tag_id_tag} ($(tagcand.north west)+(0,2)$);
\draw[fk] ($(candidature.north west)+(0,1)$) -- node[lbl,above right,pos=.94]{fk_tag_candidature_candidature_id_cand} ($(tagcand.north west)+(72,10)$);
\draw[fk] ($(centrecand.north west)+(0,69)$) -- node[lbl,above right,pos=.58]{fk_tag_centre_candidature_id_ctr_cand} (tag.south east);
\draw[fk] ($(centrecand.north west)+(0,89)$) -- ($(commission.north west)+(107,75)$);
\draw[fk] ($(adresse.north west)+(79,0)$) -- node[lbl,right,pos=0]{fk_commission_adresse_id_adr} ($(commission.north west)+(38,158)$);
\draw[fk] ($(formation.north west)+(0,213)$) -- node[lbl,below]{fk_candidature_formation_id_form} ($(candidature.north west)+(111,13)$);
\draw[fk] ($(candidat.north west)+(98,10)$) -- (candidature.south west);
\draw[fk] ($(candidature.north west)+(0,147)$) -- ($(postit.north west)+(79,2)$);
\draw[fk] ($(candidature.north west)+(101,231)$) -- node[lbl,left]{fk_typ_d...} ($(typedeccand.north west)+(14,0)$);
\draw[fk] ($(candidature.north west)+(28,231)$) -- node[lbl,right,pos=.8]{fk_candidature_opi_id_cand} ($(opi.north west)+(40,0)$);
\draw[fk] ($(typestatut.north west)+(0,2)$) -- ($(candidature.north west)+(111,210)$);
\draw[fk] ($(typetrait.north west)+(79,1)$) -- node[lbl,above right,pos=.15]{fk_formation_typ...} ($(formation.north west)+(0,129)$);
\draw[fk] (centrecand.north west) -- (gestionnaire.south east);
\node[lbl,anchor=west] at ($(typetrait.north west)+(-1,-5)$) {fk_centre_candidature_gestionnaire_id_ctr_cand};
\draw[fk] ($(typetrait.north west)+(68,44)$) -- ($(candidature.north west)+(53,0)$);
\draw[fk] ($(typstatutpiece.north west)+(93,1)$) -- node[lbl,below]{fk_pj_cand_...} ($(pjcand.north west)+(0,49)$);
\draw[fk] ($(candidature.north west)+(12,0)$) -- ($(formcand.north west)+(69,52)$);
\draw[fk] ($(candidature.north west)+(109,0)$) -- (pjcand.south west);
\draw[fk] (piecejustif.north west) -- (pjcand.south east);
\draw[fk] (commission.north east) -- ($(formation.north west)+(0,168)$);

\draw[fk] (i18n.north west) -- (formulaire.south east);
\draw[fk] ($(i18n.north west)+(3,0)$) -- ($(formulaire.south east)+(-3,0)$);
\draw[fk] ($(i18n.north west)+(5,0)$) -- (typstatutpiece.south east);
\draw[fk] ($(i18n.north west)+(7,0)$) -- (typetrait.south east);
\draw[fk] ($(i18n.north west)+(2,0)$) -- (commission.south east);
\draw[fk] ($(i18n.north west)+(9,0)$) -- (typestatut.south east);
\draw[fk] ($(i18n.north west)+(12,0)$) -- ($(piecejustif.north west)+(5,121)$);
\draw[fk] ($(i18n.north east)+(-3,0)$) -- (typedecision.south west);
\node[lbl,anchor=west] at ($(typedecision.south west)+(2,1)$) {fk_type_decision_i18n_id_i18n_lib_typ_dec};
\draw[fk] ($(i18n.north east)+(0,16)$) -- ($(mail.north west)+(0,46)$);
\node[lbl,anchor=west] at ($(i18n.north east)+(38,23)$) {fk_mail_i18n_id_i18n_corps_mail};
\node[lbl,anchor=west] at ($(i18n.north east)+(38,27)$) {fk_mail_i18n_id_i18n_sujet_mail};
\draw[fk] (i18n.south east) -- (message.north west);
\node[lbl,anchor=west] at ($(message.north west)+(-44,-43)$) {fk_message_i18n_id_i18n};
\draw[fkid] (typetrad.north west) -- ($(i18n.south west)+(83,0)$);
\node[lbl,anchor=west] at ($(i18n.south west)+(69,12)$) {fk_type_traduction_typ_trad};
\draw[fk] ($(i18n.south west)+(83,0)$) -- ($(faq.north west)+(28,0)$);
\node[lbl,anchor=west] at ($(faq.north west)+(17,-35)$) {fk_faq_i18n_id_i18n_question_faq};
\draw[fkid] ($(i18n.south west)+(0,-4)$) -- (i18ntrad.north east);
\node[lbl,anchor=west] at ($(i18ntrad.north east)+(-20,-38)$) {fk_traduction_i18n_id_i18n};
\draw[fkid] ($(langue.north west)+(81,15)$) -- node[lbl,above,yshift=12]{fk_traduction_...} ($(i18ntrad.north west)+(0,11)$);
\draw[fk] ($(i18n.south west)+(28,0)$) -- node[lbl,left]{fk_motivation_avis_i18n...} ($(motivation.north west)+(83,0)$);
\draw[fk] ($(typedecision.north west)+(0,83)$) -- node[lbl,above right,pos=1]{fk_motivation_avis_centre_candidature_id_ctr_cand} (typedeccand.north east);

\draw[fkid] ($(candidat.north west)+(98,93)$) -- node[lbl,above right,pos=0]{fk_candidat_formulaire_candidat_id_candidat} ($(formulairecandidat.north west)+(0,47)$);
\draw[fk] (langue.north west) -- node[lbl,above right,pos=.9]{fk_candidat...} (candidat.south east);
\draw[fk] ($(candidat.north west)+(76,128)$) -- node[lbl,anchor=west,xshift=-12]{fk_candidat_cursus_interne_candidat_id_candidat} ($(cursusinterne.north west)+(44,0)$);
\draw[fk] ($(mention.north west)+(12,0)$) -- node[lbl,pos=.79]{fk_siscol_mention_cursus_interne_cod_men} ($(cursusinterne.north west)+(40,65)$);
\draw[fk] (typresultat.north west) -- node[lbl,anchor=west,xshift=-8]{fk_siscol_typ_resultat_candidat_cursus_interne_cod_tre} ($(cursusinterne.north west)+(97,65)$);
\draw[fk] ($(dipautcur.north west)+(0,7)$) -- node[lbl,below]{fk_cursus_si...} ($(cursuspostbac.north west)+(79,0)$);
\draw[fk] ($(mention.north west)+(0,17)$) -- ($(cursuspostbac.north west)+(79,55)$);
\node[lbl,anchor=west] at ($(mention.south west)+(-64,7)$) {fk_cursus_siscol...};
\draw[fk] (candidat.south west) -- node[lbl,right]{fk_cursus_po...} (cursuspostbac.north east);
\draw[fk] (pays.north east) -- (candidat.south west);
\draw[fk] ($(pays.north west)+(61,43)$) -- node[lbl,pos=.68]{fk_cursus_post_bac_pays_cod_pay} ($(cursuspostbac.north west)+(37,0)$);
\draw[fkid] ($(candidat.north west)+(0,113)$) -- node[lbl,above]{fk_bac_ou_eq...} ($(bacouequ.north west)+(79,2)$);
\draw[fk] (mentionnivbac.south east) -- node[lbl,below left]{fk_bac_ou_equ_siscol...} (bacouequ.north west);
\draw[fk] ($(bacoux.north west)+(86,4)$) -- ($(bacouequ.north west)+(0,66)$);
\node[lbl,anchor=west] at ($(bacoux.north east)+(-8,-14)$) {fk_bac_ou_equ_siscol...};
\draw[fk] ($(pays.north west)+(0,7)$) -- node[lbl,above]{fk_bac_ou_e...} ($(bacouequ.north west)+(79,27)$);
\draw[fk] (commune.north west) -- node[lbl,below right,pos=1]{fk_bac_ou_e...} (bacouequ.south east);
\draw[fk] ($(etablissement.north west)+(6,0)$) -- node[lbl,right]{fk_bac_ou_...} ($(bacouequ.north west)+(58,66)$);
\draw[fk] ($(departement.north west)+(7,0)$) -- node[lbl]{fk_bac...} ($(bacouequ.north west)+(35,66)$);
\draw[fk] ($(departement.north west)+(34,0)$) -- node[lbl,left]{fk_siscol_departement_etab_cod_dep} ($(etablissement.north west)+(10,65)$);
\draw[fk] ($(commune.north west)+(0,16)$) -- node[lbl,above]{fk_siscol_commun...} ($(etablissement.north west)+(87,17)$);
\draw[fk] ($(departement.north west)+(69,27)$) -- node[lbl,above]{fk_cursus_siscol...} ($(cursuspostbac.north west)+(0,44)$);
\draw[fk] (departement.north east) -- (commune.south west);
\node[lbl,anchor=west] at ($(departement.north east)+(-4,-14)$) {fk_siscol_departement_...};
\draw[fk] (pays.north east) -- (adresse.south west);
\node[lbl,anchor=west] at ($(pays.north east)+(-9,-69)$) {fk_adresse_siscol_pays_cod_pay};
\draw[fk] (commune.north east) -- ($(adresse.south west)+(4,0)$);
\node[lbl,anchor=west] at ($(pays.north east)+(-29,-48)$) {fk_adresse_siscol_commune_cod_com};
\draw[fk] (departement.north east) -- (candidat.south west);
\node[lbl,anchor=west] at ($(commune.north west)+(-18,-9)$) {fk_siscol_departement_cod_dep_cod_dep_naiss};
\draw[fk] (civilite.north west) -- ($(candidat.north west)+(98,5)$);
\draw[fk] (catexoext.north east) -- ($(candidature.north west)+(0,225)$);
\draw[fk] (pjopi.south west) -- (candidat.north east);
\end{tikzpicture}
\end{document}
